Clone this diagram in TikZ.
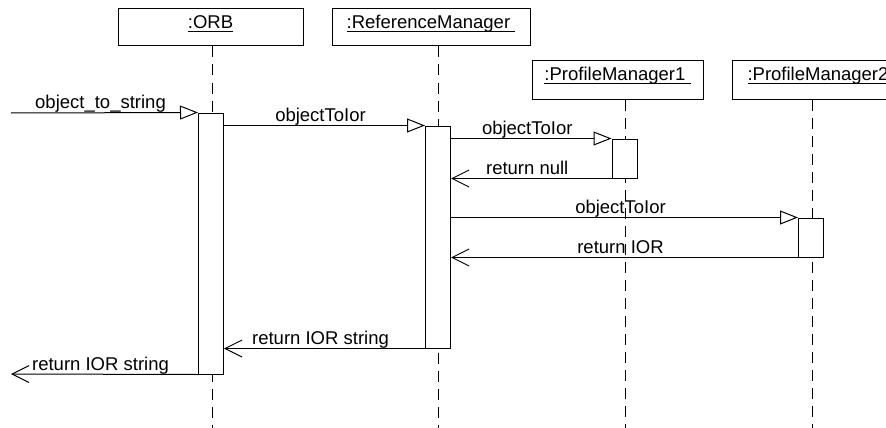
\documentclass[tikz,border=0pt]{standalone}
\usepackage{fontspec}
\setmainfont{Liberation Sans}
\usetikzlibrary{arrows.meta}
\newcommand\ulname[1]{\setbox0\hbox{#1}\rlap{\rule[-3pt]{\wd0}{0.9pt}}\box0}
\begin{document}
\begin{tikzpicture}[x=1pt,y=-1pt, font=\fontsize{18.5}{22}\selectfont, line width=1pt,
 obj/.style={draw, inner xsep=0pt, inner ysep=0pt, text height=20pt, text depth=17pt},
 act/.style={draw, fill=white, inner sep=0pt, minimum width=25pt},
 life/.style={dash pattern=on 11pt off 7pt},
 call/.style={-{Triangle[open,length=18pt,width=14pt]}},
 ret/.style={-{Straight Barb[length=17pt,width=17pt]}},
 lbl/.style={midway, anchor=base, xshift=-4pt, yshift=4pt, inner sep=0pt}]
\clip (0,0) rectangle (886,428);
\fill[white] (0,0) rectangle (886,428);
% objects
\node[obj, minimum width=185pt] (orb) at (210.5,27.5) {\ulname{:ORB}};
\node[obj, minimum width=198pt] (ref) at (431,27.5) {\ulname{:ReferenceManager\ }};
\node[obj, minimum width=171pt, text depth=18pt] (pm1) at (617.5,80) {\ulname{:ProfileManager1\ }};
\node[obj, minimum width=172pt, text depth=18pt] (pm2) at (818,80) {\ulname{:ProfileManager2}};
% lifelines
\coordinate (orbE) at (212,428);
\coordinate (refE) at (438,428);
\coordinate (pm1E) at (625,428);
\coordinate (pm2E) at (812,428);
\draw[life] (orbE |- orb.south) -- (orbE);
\draw[life] (refE |- ref.south) -- (refE);
\draw[life] (pm1E |- pm1.south) -- (pm1E);
\draw[life] (pm2E |- pm2.south) -- (pm2E);
% activations
\node[act, minimum height=261pt] (orbA) at (211,243.5) {};
\node[act, minimum height=222pt] (refA) at (438,237) {};
\node[act, minimum height=39pt] (pm1A) at (624.5,158.5) {};
\node[act, minimum height=39pt] (pm2A) at (811,237.5) {};
% messages
\coordinate (src) at (11,113);
\coordinate (snk) at (11,374);
\draw[call] (src) -- (orbA.north west) node[lbl]{object\_to\_string};
\draw[call] (refA.north west -| orbA.east) -- (refA.north west) node[lbl]{objectToIor};
\draw[call] (pm1A.north west -| refA.east) -- (pm1A.north west) node[lbl]{objectToIor};
\draw[ret] (pm1A.south west) -- (pm1A.south west -| refA.east) node[lbl]{return null};
\draw[call] (pm2A.north west -| refA.east) -- (pm2A.north west) node[lbl]{objectToIor};
\draw[ret] (pm2A.south west) -- (pm2A.south west -| refA.east) node[lbl]{return IOR};
\draw[ret] (refA.south west) -- (refA.south west -| orbA.east) node[lbl]{return IOR string};
\draw[ret] (orbA.south west) -- (snk) node[lbl]{return IOR string};
\end{tikzpicture}
\end{document}
